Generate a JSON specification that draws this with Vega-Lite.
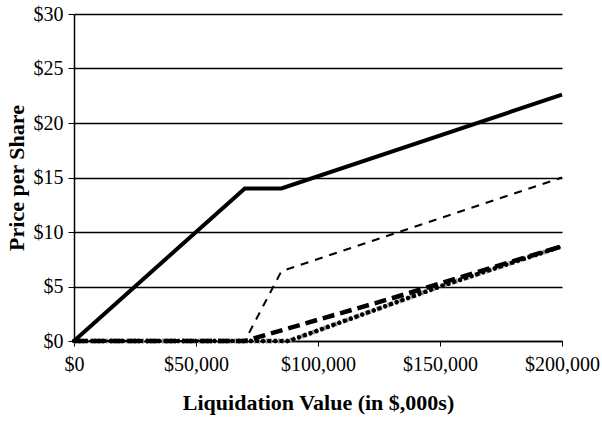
{
  "$schema": "https://vega.github.io/schema/vega-lite/v6.json",
  "width": 488,
  "height": 327,
  "autosize": {"type": "none"},
  "padding": {"left": 74, "top": 14, "right": 40, "bottom": 82},
  "background": "white",
  "config": {
    "view": {"stroke": null},
    "font": "Liberation Serif",
    "axis": {
      "labelFont": "Liberation Serif",
      "titleFont": "Liberation Serif",
      "labelFontSize": 20,
      "titleFontSize": 22,
      "labelColor": "black",
      "titleColor": "black",
      "domainColor": "black",
      "tickColor": "black",
      "gridColor": "black",
      "gridOpacity": 1
    }
  },
  "data": {
    "values": [
      {"s": "A", "x": 0, "y": 0},
      {"s": "A", "x": 70000, "y": 14},
      {"s": "A", "x": 85000, "y": 14},
      {"s": "A", "x": 200000, "y": 22.6},
      {"s": "B", "x": 0, "y": 0},
      {"s": "B", "x": 70000, "y": 0},
      {"s": "B", "x": 85000, "y": 6.4},
      {"s": "B", "x": 200000, "y": 15},
      {"s": "C", "x": 0, "y": 0},
      {"s": "C", "x": 70000, "y": 0},
      {"s": "C", "x": 130000, "y": 3.9},
      {"s": "C", "x": 200000, "y": 8.7},
      {"s": "D", "x": 0, "y": 0},
      {"s": "D", "x": 88000, "y": 0},
      {"s": "D", "x": 150000, "y": 5},
      {"s": "D", "x": 200000, "y": 8.7}
    ]
  },
  "encoding": {
    "x": {
      "field": "x", "type": "quantitative",
      "scale": {"domain": [0, 200000], "nice": false, "zero": true},
      "axis": {
        "title": "Liquidation Value (in $,000s)",
        "titleFontWeight": "bold",
        "titlePadding": 18,
        "values": [0, 50000, 100000, 150000, 200000],
        "format": "$,.0f",
        "grid": false,
        "tickSize": 5,
        "labelPadding": 8,
        "domainWidth": 1.5,
        "labelFlush": false
      }
    },
    "y": {
      "field": "y", "type": "quantitative",
      "scale": {"domain": [0, 30], "nice": false},
      "axis": {
        "title": "Price per Share",
        "titleFontWeight": "bold",
        "titlePadding": 5,
        "values": [0, 5, 10, 15, 20, 25, 30],
        "format": "$.0f",
        "grid": true,
        "gridWidth": 1.5,
        "tickSize": 6,
        "labelPadding": 5,
        "domainWidth": 1.5
      }
    }
  },
  "layer": [
    {
      "transform": [{"filter": "datum.s === 'D'"}],
      "mark": {"type": "line", "color": "#9a9a9a", "strokeWidth": 5, "strokeDash": [2, 2]},
      "encoding": {}
    },
    {
      "transform": [{"filter": "datum.s === 'D'"}],
      "mark": {"type": "line", "color": "black", "strokeWidth": 4.5, "strokeDash": [0.1, 6], "strokeCap": "round"},
      "encoding": {}
    },
    {
      "transform": [{"filter": "datum.s === 'C'"}],
      "mark": {"type": "line", "color": "black", "strokeWidth": 4.5, "strokeDash": [12, 6]},
      "encoding": {}
    },
    {
      "transform": [{"filter": "datum.s === 'B'"}],
      "mark": {"type": "line", "color": "black", "strokeWidth": 2, "strokeDash": [8, 7]},
      "encoding": {}
    },
    {
      "transform": [{"filter": "datum.s === 'A'"}],
      "mark": {"type": "line", "color": "black", "strokeWidth": 4},
      "encoding": {}
    }
  ]
}
